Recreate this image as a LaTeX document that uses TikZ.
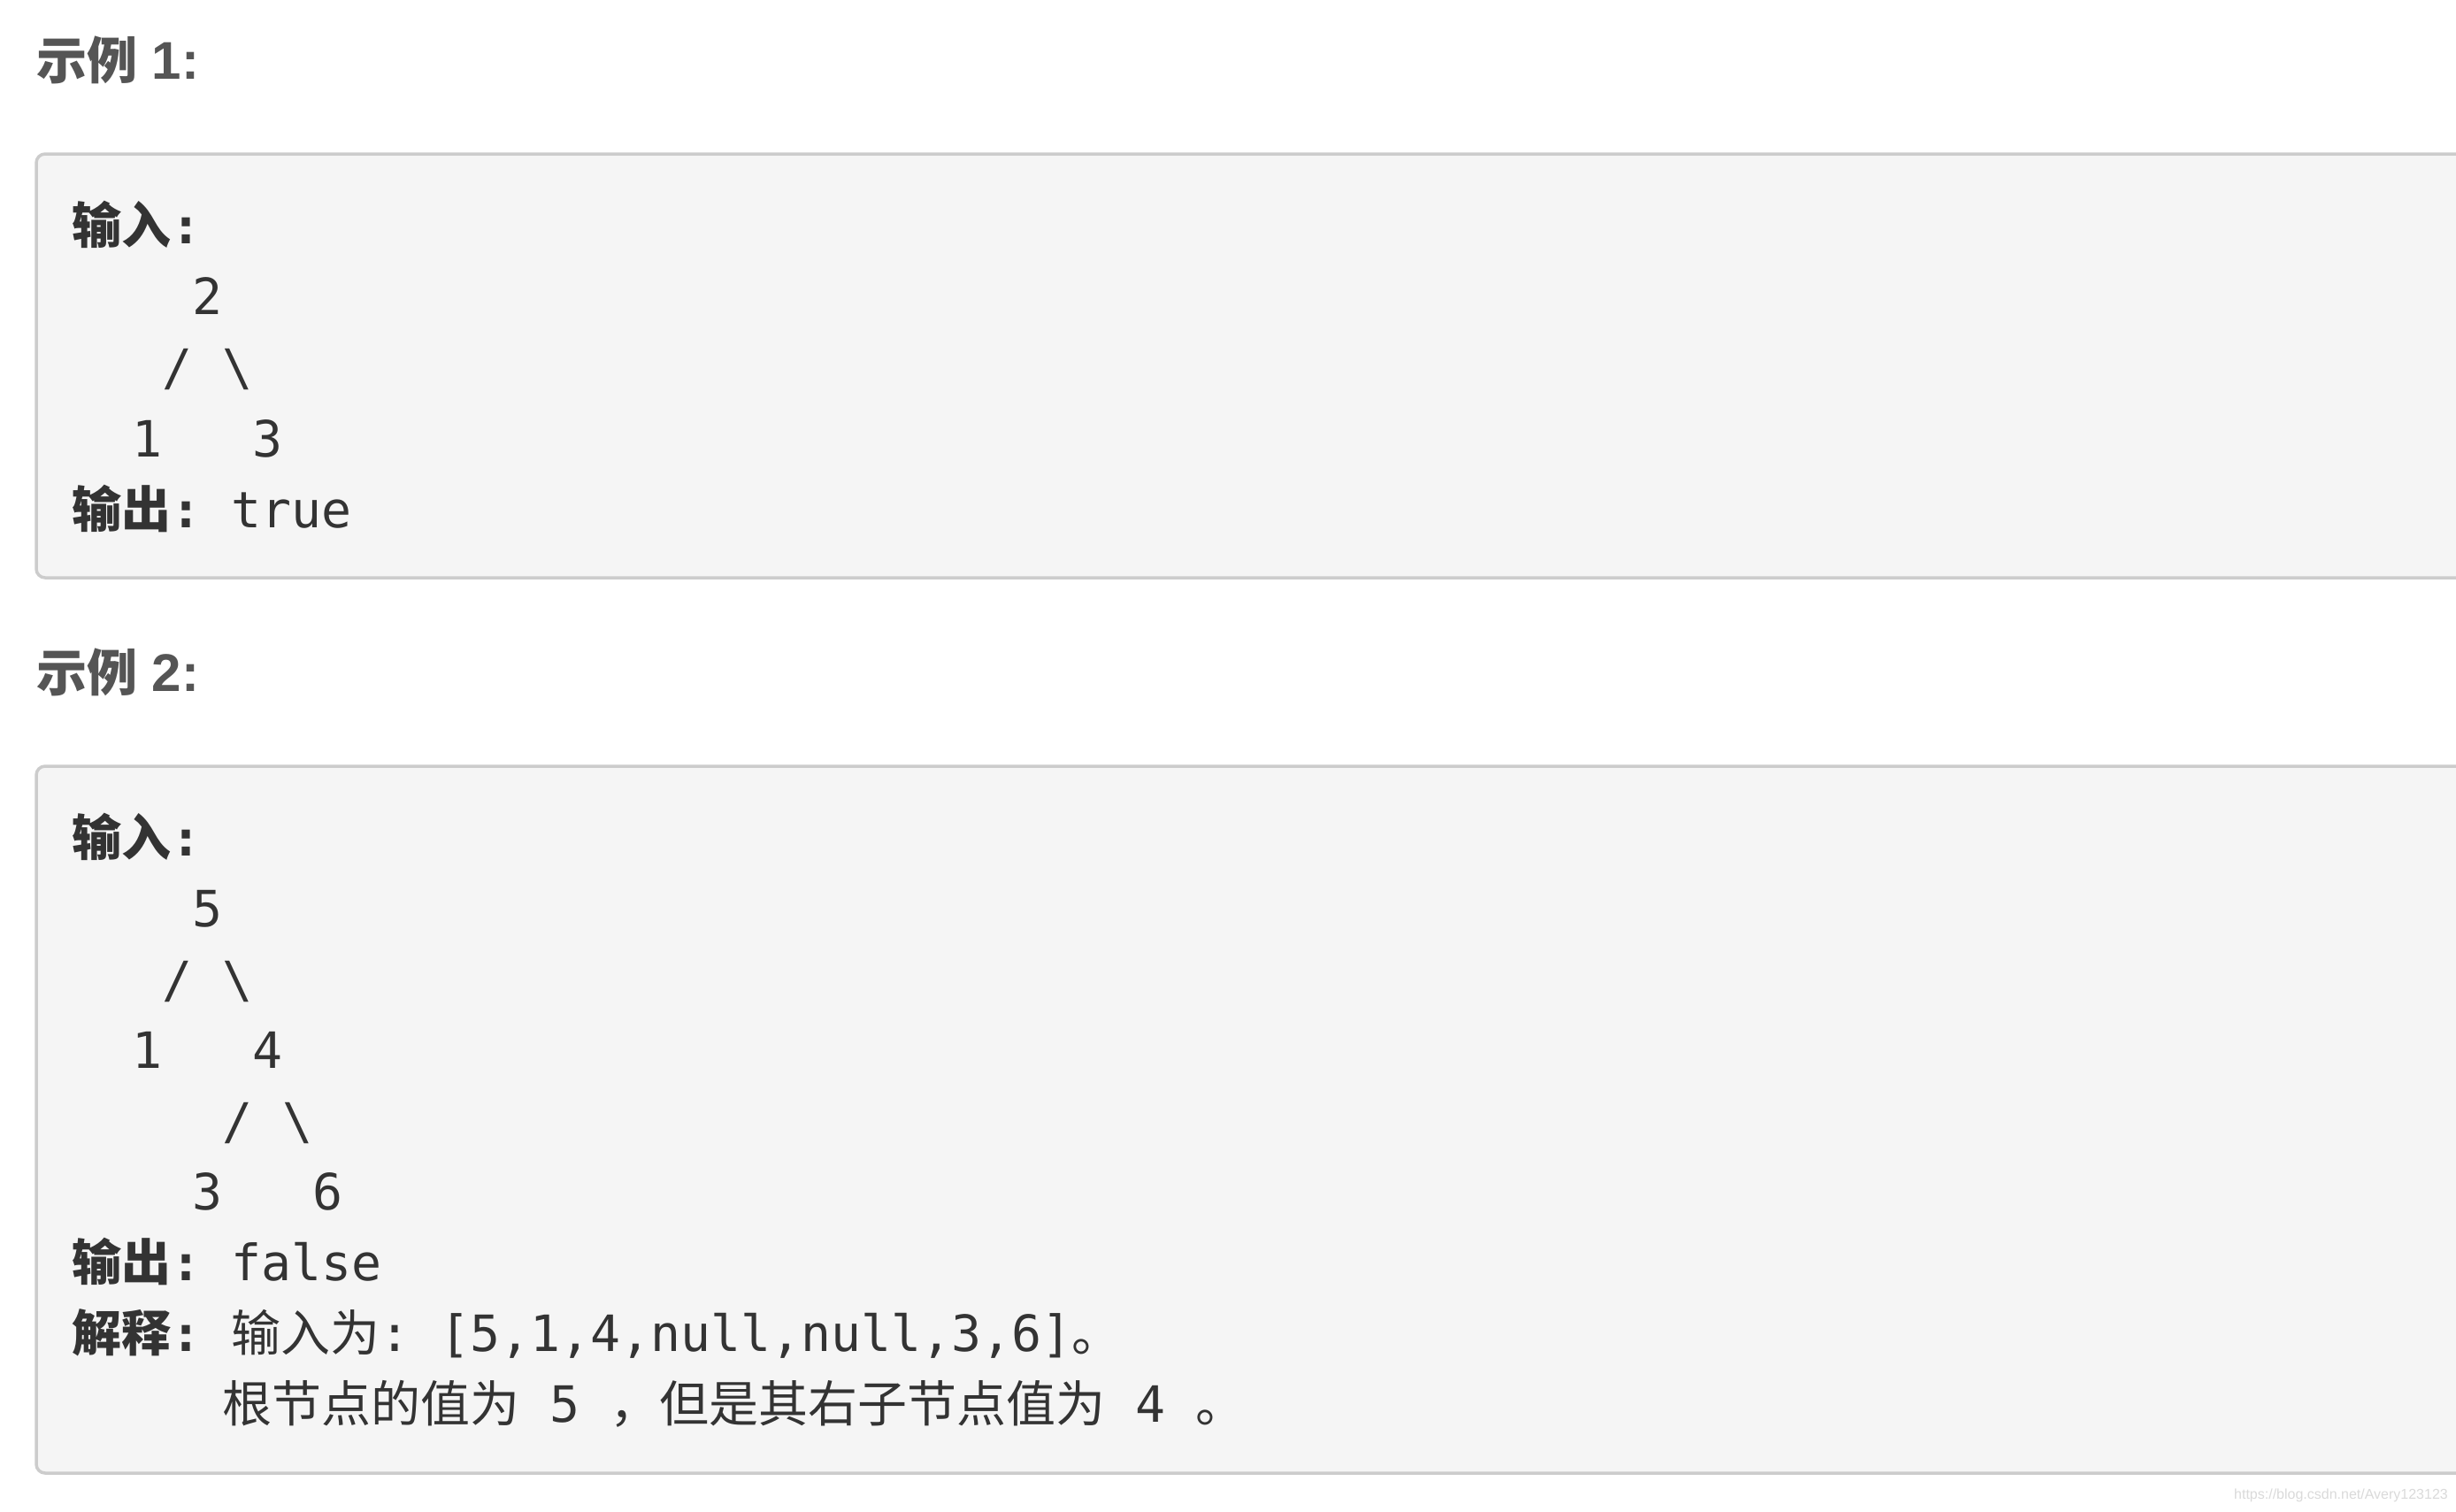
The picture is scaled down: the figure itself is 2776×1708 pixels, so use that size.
\documentclass[tikz,border=0pt]{standalone}
\usepackage{fontspec}
\setmainfont{Liberation Sans}
\setmonofont{DejaVu Sans Mono}
\newfontfamily\cjk{Noto Sans CJK SC}
\definecolor{txt}{HTML}{333333}
\definecolor{hd}{HTML}{555555}
\definecolor{boxfill}{HTML}{F5F5F5}
\definecolor{boxline}{HTML}{CCCCCC}
\definecolor{wmark}{HTML}{DADADA}
\newlength\mw \setlength\mw{34.02pt}
\newcommand\msp[1]{\hspace*{#1\mw}}
\newcommand\mo{\fontsize{56.5}{80}\selectfont\ttfamily}
\newcommand\zh{\fontsize{56}{80}\selectfont\cjk}
\newcommand\lbl[1]{{\zh\bfseries #1}{\mo\bfseries :}}
\newcommand\hdz{\fontsize{57}{60}\selectfont\cjk\bfseries}
\newcommand\hdl{\fontsize{60}{60}\selectfont\rmfamily\bfseries}
\begin{document}
\begin{tikzpicture}[x=1pt,y=-1pt,
  codeline/.style={anchor=base west, inner sep=0pt, outer sep=0pt, text=txt},
  head/.style={anchor=base west, inner sep=0pt, outer sep=0pt, text=hd},
  codebox/.style={draw=boxline, fill=boxfill, line width=3.5pt, rounded corners=10pt}]
\useasboundingbox (0,0) rectangle (2776,1708);
\clip (0,0) rectangle (2776,1708);
\fill[white] (0,0) rectangle (2776,1708);
% Example 1
\node[head] (h1) at (41,89) {{\hdz 示例}{\hdl\ 1:}};
\draw[codebox] (41,174) rectangle (2820,653);
\node[codeline] (a1) at (81,275) {\lbl{输入}};
\node[codeline] (a2) at (81,355) {\mo\msp{4}2};
\node[codeline] (a3) at (81,435) {\mo\msp{3}/\msp{1}\textbackslash};
\node[codeline] (a4) at (81,516) {\mo\msp{2}1\msp{3}3};
\node[codeline] (a5) at (81,596) {\lbl{输出}{\mo\msp{1}true}};
% Example 2
\node[head] (h2) at (41,781) {{\hdz 示例}{\hdl\ 2:}};
\draw[codebox] (41,866) rectangle (2820,1665);
\node[codeline] (b1) at (81,967) {\lbl{输入}};
\node[codeline] (b2) at (81,1047) {\mo\msp{4}5};
\node[codeline] (b3) at (81,1127) {\mo\msp{3}/\msp{1}\textbackslash};
\node[codeline] (b4) at (81,1207) {\mo\msp{2}1\msp{3}4};
\node[codeline] (b5) at (81,1287) {\mo\msp{5}/\msp{1}\textbackslash};
\node[codeline] (b6) at (81,1367) {\mo\msp{4}3\msp{3}6};
\node[codeline] (b7) at (81,1447) {\lbl{输出}{\mo\msp{1}false}};
\node[codeline] (b8) at (81,1527) {\lbl{解释}{\mo\msp{1}}{\zh 输入为}{\mo :\msp{1}[5,1,4,null,null,3,6]}{\zh 。}};
\node[codeline] (b9) at (81,1607) {{\mo\msp{5}}{\zh 根节点的值为}{\mo\msp{1}5\msp{1}}{\zh ，但是其右子节点值为}{\mo\msp{1}4\msp{1}}{\zh 。}};
% watermark
\node[anchor=base east, inner sep=0pt, text=wmark, font=\fontsize{16}{20}\selectfont] (wm) at (2767,1694) {https://blog.csdn.net/Avery123123};
\end{tikzpicture}
\end{document}
